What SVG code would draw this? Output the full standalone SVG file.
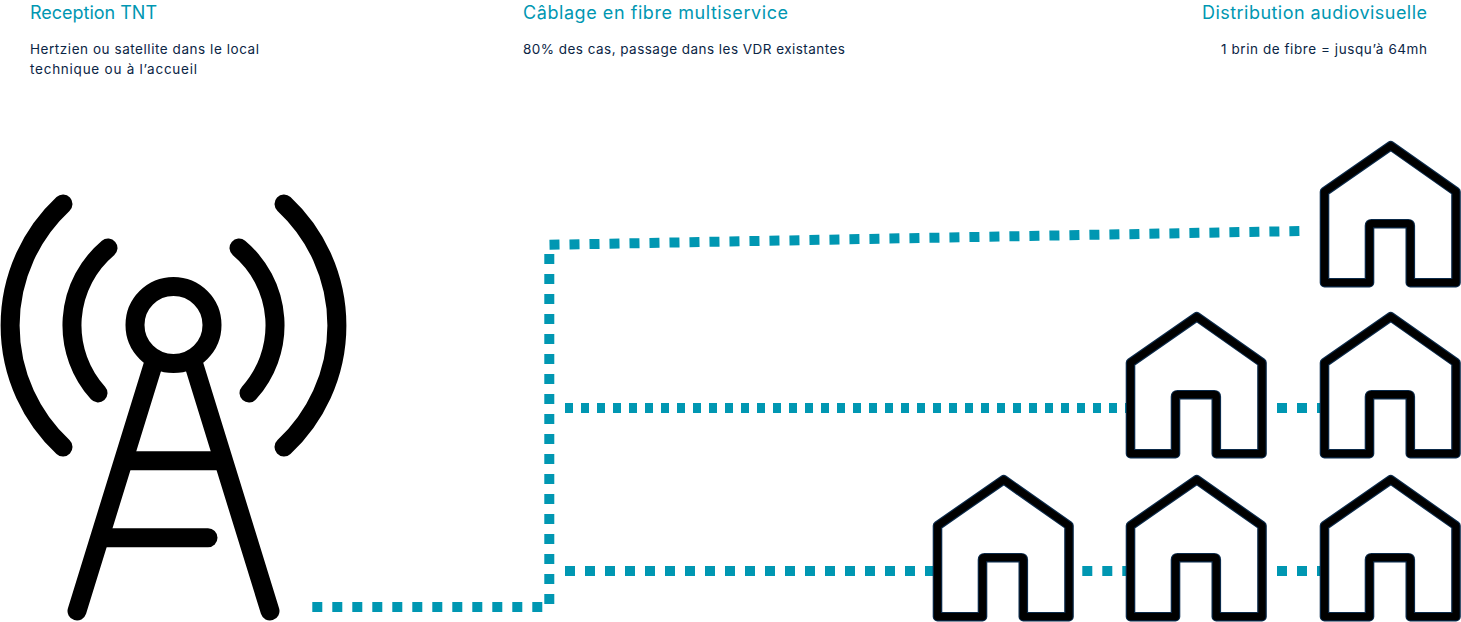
<svg xmlns="http://www.w3.org/2000/svg" width="1461" height="622" viewBox="0 0 1461 622">
<style>
text{font-family:Inter,"Liberation Sans",sans-serif}
.h{font-size:18px;fill:#0097b2}
.s{font-size:13.5px;fill:#0b2545}
.d{fill:none;stroke:#0097b2;stroke-width:10;stroke-dasharray:10 10}
.m{stroke-dasharray:8 8}
.t{fill:none;stroke:#000;stroke-width:19;stroke-linecap:round}
.ho{fill:none;stroke:#0b2a4a;stroke-width:9.6;stroke-linejoin:round}
.hi{fill:none;stroke:#000;stroke-width:7.2;stroke-linejoin:round}
</style>
<defs>
<g id="house">
<path class="ho" d="M1324.5 191.7L1390.7 145.7L1456 191.7V282.7H1410.3V225.7Q1410.3 223.7 1408.3 223.7H1371.5Q1369.5 223.7 1369.5 225.7V282.7H1324.5Z"/>
<path class="hi" d="M1324.5 191.7L1390.7 145.7L1456 191.7V282.7H1410.3V225.7Q1410.3 223.7 1408.3 223.7H1371.5Q1369.5 223.7 1369.5 225.7V282.7H1324.5Z"/>
</g>
</defs>
<g id="connectors">
<path class="d" d="M312.3 607H549.3V253"/>
<path class="d" d="M549.5 244.8L1300 231"/>
<path class="d m" d="M565 408H1130"/>
<path class="d" d="M1277 408H1320"/>
<path class="d" d="M565 571H935"/>
<path class="d" d="M1082.3 571H1130"/>
<path class="d" d="M1277 571H1320"/>
</g>
<g id="tower">
<circle class="t" cx="173.5" cy="325" r="38.5"/>
<path class="t" d="M63 204A166 166 0 0 0 63 447"/>
<path class="t" d="M108 248A101 101 0 0 0 98 393"/>
<path class="t" d="M284 204A166 166 0 0 1 284 447"/>
<path class="t" d="M239 248A101 101 0 0 1 249 393"/>
<path class="t" d="M77 611L153 365M270 611L194 365"/>
<path class="t" stroke-linecap="butt" d="M128 460.7H220"/>
<path class="t" d="M106 537.7H208"/>
</g>
<g id="house-1"><use href="#house"/></g>
<g id="house-2"><use href="#house" y="171"/></g>
<g id="house-3"><use href="#house" x="-194" y="171"/></g>
<g id="house-4"><use href="#house" y="334"/></g>
<g id="house-5"><use href="#house" x="-194" y="334"/></g>
<g id="house-6"><use href="#house" x="-387" y="334"/></g>
<g id="labels">
<text class="h" x="30" y="19" textLength="127" lengthAdjust="spacing">Reception TNT</text>
<text class="s" x="30" y="54" textLength="229" lengthAdjust="spacing">Hertzien ou satellite dans le local</text>
<text class="s" x="30" y="74" textLength="167" lengthAdjust="spacing">technique ou à l’accueil</text>
<text class="h" x="523" y="19" textLength="265" lengthAdjust="spacing">Câblage en fibre multiservice</text>
<text class="s" x="523" y="54" textLength="322" lengthAdjust="spacing">80% des cas, passage dans les VDR existantes</text>
<text class="h" x="1202" y="19" textLength="225" lengthAdjust="spacing">Distribution audiovisuelle</text>
<text class="s" x="1221" y="54" textLength="206" lengthAdjust="spacing">1 brin de fibre = jusqu’à 64mh</text>
</g>
</svg>
